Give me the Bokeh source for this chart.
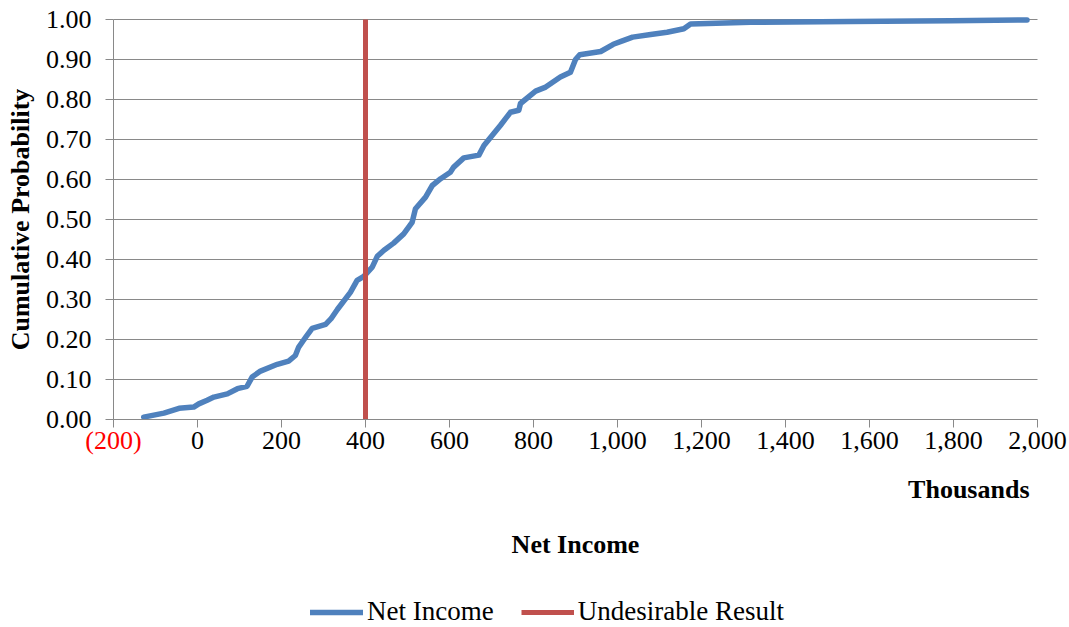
import math
from bokeh.plotting import figure
from bokeh.models import (Range1d, FixedTicker, NumeralTickFormatter, Legend,
                          LegendItem, Label, LinearAxis)
from bokeh.embed import file_html
from bokeh.resources import INLINE

# ---- data ----
net_income_k = [-128, -80, -44, -9, 3, 23, 39, 71, 95, 118, 130, 150, 190, 217, 233, 241,
                 257, 273, 305, 318, 333, 364, 380, 396, 416, 428, 444, 467, 491, 511, 519,
                 543, 559, 579, 602, 610, 634, 670, 682, 721, 745, 765, 769, 805, 829, 864,
                 888, 900, 910, 960, 990, 1010, 1036, 1079, 1118, 1158, 1174, 1317, 1555,
                 1793, 1975]
cum_prob = [0.006, 0.016, 0.028, 0.031, 0.039, 0.048, 0.056, 0.064, 0.077, 0.083, 0.106,
            0.121, 0.138, 0.146, 0.160, 0.181, 0.205, 0.228, 0.238, 0.252, 0.275, 0.318,
            0.348, 0.358, 0.381, 0.408, 0.423, 0.441, 0.464, 0.493, 0.527, 0.556, 0.585,
            0.602, 0.618, 0.631, 0.654, 0.661, 0.685, 0.735, 0.768, 0.773, 0.790, 0.821,
            0.831, 0.856, 0.868, 0.900, 0.912, 0.920, 0.938, 0.946, 0.956, 0.9625, 0.968,
            0.977, 0.989, 0.993, 0.995, 0.997, 0.999]
undesirable_x = [400, 400]
undesirable_y = [0.0, 1.0]
x_ticks = [-200, 0, 200, 400, 600, 800, 1000, 1200, 1400, 1600, 1800, 2000]
y_ticks = [0.0, 0.1, 0.2, 0.3, 0.4, 0.5, 0.6, 0.7, 0.8, 0.9, 1.0]

FONT = "Liberation Serif"
FS = "26px"
FS_LEG = "27px"
GRID = "#898989"
BLUE = "#4F81BD"
RED = "#C0504D"

# ---- layout (pixels of the 1069x627 canvas) ----
W, H = 1069, 627
PL, PR, PT, PB = 113, 1037, 19, 419          # plot area edges
xmin, xmax = x_ticks[0], x_ticks[-1]
ymin, ymax = y_ticks[0], y_ticks[-1]
ppx = (PR - PL) / (xmax - xmin)
ppy = (PB - PT) / (ymax - ymin)
def xd(px):  # canvas px -> data x
    return xmin + (px - PL) / ppx
def yd(py):  # canvas px -> data y
    return ymin + (PB - py) / ppy

p = figure(width=W, height=H, output_backend="svg", toolbar_location=None,
           x_range=Range1d(xd(0), xd(W)), y_range=Range1d(yd(H), yd(0)),
           x_axis_location=None, y_axis_location=None,
           min_border_left=0, min_border_right=0, min_border_top=0, min_border_bottom=0)
p.outline_line_color = None
p.background_fill_color = "white"
p.grid.grid_line_color = None

# horizontal gridlines across the plot area only
p.segment(x0=xmin, x1=xmax, y0=y_ticks, y1=y_ticks, line_color=GRID, line_width=1)

xaxis = LinearAxis(fixed_location=ymin, bounds=(xmin, xmax), ticker=FixedTicker(ticks=x_ticks),
                   formatter=NumeralTickFormatter(format="0,0"))
xaxis.major_label_overrides = {xmin: " "}
p.add_layout(xaxis, "below")

xaxis_neg = LinearAxis(fixed_location=ymin, bounds=(xmin, xmax),
                       ticker=FixedTicker(ticks=x_ticks[:1]))
xaxis_neg.major_label_overrides = {xmin: "(200)"}
xaxis_neg.axis_line_color = None
xaxis_neg.major_tick_line_color = None
p.add_layout(xaxis_neg, "below")

yaxis = LinearAxis(fixed_location=xmin, bounds=(ymin, ymax), ticker=FixedTicker(ticks=y_ticks),
                   formatter=NumeralTickFormatter(format="0.00"))
p.add_layout(yaxis, "left")

for ax in (xaxis, xaxis_neg, yaxis):
    ax.major_tick_out = 8
    ax.major_tick_in = 0
    ax.minor_tick_line_color = None
    ax.major_label_text_font = FONT
    ax.major_label_text_font_size = FS
    ax.major_label_standoff = -2
for ax in (xaxis, yaxis):
    ax.axis_line_color = GRID
    ax.major_tick_line_color = GRID
    ax.major_label_text_color = "black"
xaxis_neg.major_label_text_color = "red"
yaxis.major_label_standoff = 14

r_blue = p.line(net_income_k, cum_prob, line_color=BLUE, line_width=5.5,
                line_cap="round", line_join="round")
r_red = p.line(undesirable_x, undesirable_y, line_color=RED, line_width=5)

p.add_layout(Label(x=xd(20), y=(ymin + ymax) / 2, text="Cumulative Probability",
                   angle=math.pi / 2, text_color="black", text_font=FONT, text_font_size=FS,
                   text_font_style="bold", text_align="center", text_baseline="middle"))
p.add_layout(Label(x=xd(1029), y=yd(489), text="Thousands",
                   text_color="black", text_font=FONT, text_font_size=FS,
                   text_font_style="bold", text_align="right", text_baseline="middle"))
p.add_layout(Label(x=xd(575), y=yd(544), text="Net Income",
                   text_color="black", text_font=FONT, text_font_size=FS,
                   text_font_style="bold", text_align="center", text_baseline="middle"))

legend = Legend(items=[LegendItem(label="Net Income", renderers=[r_blue]),
                       LegendItem(label="Undesirable Result", renderers=[r_red])],
                orientation="horizontal", location=(310, 0),
                label_text_font=FONT, label_text_font_size=FS_LEG, label_text_color="black",
                glyph_width=53, glyph_height=20, label_standoff=4, spacing=27,
                border_line_color=None, background_fill_alpha=0, padding=0, margin=0)
p.add_layout(legend, "center")

open("out.html", "w").write(file_html(p, INLINE))
